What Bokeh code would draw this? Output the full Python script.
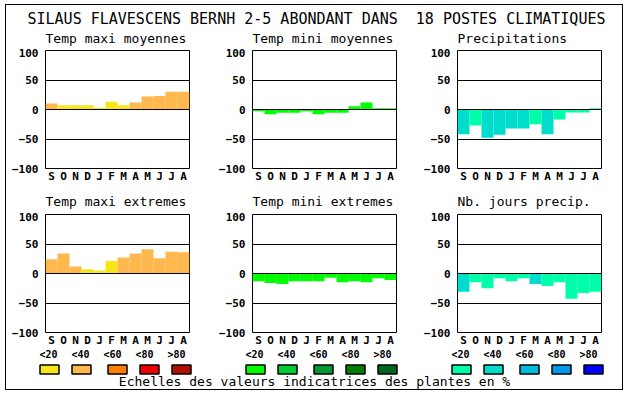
from bokeh.plotting import figure
from bokeh.layouts import column, row
from bokeh.models import Range1d, FixedTicker, ColumnDataSource
from bokeh.embed import file_html
from bokeh.resources import INLINE
from bokeh.core.properties import value

# the original has two spaces between "DANS" and "18" (kept with a no-break space)
TITLE = "SILAUS FLAVESCENS BERNH 2-5 ABONDANT DANS \u00a018 POSTES CLIMATIQUES"
FOOTER = "Echelles des valeurs indicatrices des plantes en %"

months = ["S", "O", "N", "D", "J", "F", "M", "A", "M", "J", "J", "A"]
y_ticks = [-100, -50, 0, 50, 100]
grid_ticks = [-50, 0, 50]
class_labels = ["<20", "<40", "<60", "<80", ">80"]

temp_max_colors = ["#f8e619", "#ffb84d", "#ff8000", "#ee0000", "#b01000"]
temp_min_colors = ["#00ff00", "#00cc33", "#009933", "#008000", "#006622"]
water_colors = ["#00ffaa", "#00ddcc", "#00bbdd", "#0099ee", "#0000ff"]

# values (percent) and class index (0:<20, 1:<40, ...) per month
tmax_moy = [10, 7, 7, 7, 3, 13, 7, 12, 22, 23, 30, 30]
tmax_moy_cls = [1, 0, 0, 0, 0, 0, 0, 1, 1, 1, 1, 1]
tmin_moy = [-3, -8, -5.5, -5.5, -3, -8, -5.5, -5.5, 5.5, 12, 2, 2]
tmin_moy_cls = [0] * 12
precip = [-42, -27, -48, -43, -32, -32, -25, -42, -17, -5, -5, 2]
precip_cls = [1, 0, 1, 1, 1, 1, 0, 1, 0, 0, 0, 0]
tmax_ext = [24, 34, 12, 7, 5, 21, 27, 34, 41, 26, 37, 36]
tmax_ext_cls = [1, 1, 1, 0, 0, 0, 1, 1, 1, 1, 1, 1]
tmin_ext = [-13, -16, -18, -13, -13, -13, -7, -15, -13, -15, -8, -11]
tmin_ext_cls = [0] * 12
nbj = [-31, -15, -25, -8, -13, -8, -18, -21, -15, -43, -33, -31]
nbj_cls = [1, 0, 0, 0, 0, 0, 1, 0, 0, 0, 0, 0]

row1_titles = ["Temp maxi moyennes", "Temp mini moyennes", "Precipitations"]
row2_titles = ["Temp maxi extremes", "Temp mini extremes", "Nb. jours precip."]

MONO = "DejaVu Sans Mono"
FRAME_W = 144
FRAME_H = 120

# horizontal layout of the three columns (inside the border)
col_w = [207, 205, 204]
col_l = [39, 39, 39]
col_r = [w - l - FRAME_W for w, l in zip(col_w, col_l)]
TOTAL_W = sum(col_w)
frame_lefts = [sum(col_w[:i]) + col_l[i] for i in range(3)]


def panel(vals, cls, palette, i):
    top, bottom = 2, 15
    p = figure(width=col_w[i], height=top + FRAME_H + bottom,
               x_range=Range1d(0, 12), y_range=Range1d(-100, 100),
               output_backend="svg", toolbar_location=None, title=None,
               min_border_left=col_l[i], min_border_right=col_r[i],
               min_border_top=top, min_border_bottom=bottom,
               background_fill_color="white", border_fill_color="white")
    xs = [k + 0.5 for k in range(len(months))]
    src = ColumnDataSource(dict(x=xs, top=vals,
                                color=[palette[c] for c in cls]))
    p.vbar(x="x", top="top", bottom=0, width=1, fill_color="color",
           line_color=None, source=src)
    p.outline_line_color = "black"
    p.outline_line_width = 1
    p.outline_line_alpha = 1
    p.xgrid.visible = False
    p.ygrid.ticker = FixedTicker(ticks=grid_ticks)
    p.ygrid.grid_line_color = "black"
    p.ygrid.grid_line_alpha = 1
    p.ygrid.grid_line_width = 1
    p.ygrid.level = "overlay"

    p.xaxis.ticker = FixedTicker(ticks=xs)
    p.xaxis.major_label_overrides = {x: m for x, m in zip(xs, months)}
    p.yaxis.ticker = FixedTicker(ticks=y_ticks)
    for ax in (p.xaxis, p.yaxis):
        ax.axis_line_color = None
        ax.major_tick_line_color = None
        ax.minor_tick_line_color = None
        ax.major_tick_out = 0
        ax.major_tick_in = 0
        ax.major_label_text_font = MONO
        ax.major_label_text_font_style = "bold"
        ax.major_label_text_font_size = "11px"
        ax.major_label_text_color = "black"
    p.xaxis.major_label_standoff = 1
    p.yaxis.major_label_standoff = 7
    return p


def blank(height):
    p = figure(width=TOTAL_W, height=height,
               x_range=Range1d(0, TOTAL_W), y_range=Range1d(height, 0),
               output_backend="svg", toolbar_location=None, title=None,
               min_border=0, x_axis_location=None, y_axis_location=None,
               background_fill_color="white", border_fill_color="white")
    p.outline_line_color = None
    p.grid.visible = False
    return p


def subtitles(p, titles, middle):
    p.text(x=frame_lefts, y=[middle] * 3, text=titles,
           text_font=value(MONO), text_font_size=value("13px"),
           text_baseline="middle", text_align="left", text_color="black")


row1_data = [(tmax_moy, tmax_moy_cls, temp_max_colors),
             (tmin_moy, tmin_moy_cls, temp_min_colors),
             (precip, precip_cls, water_colors)]
row2_data = [(tmax_ext, tmax_ext_cls, temp_max_colors),
             (tmin_ext, tmin_ext_cls, temp_min_colors),
             (nbj, nbj_cls, water_colors)]

row1 = [panel(v, c, pal, i) for i, (v, c, pal) in enumerate(row1_data)]
row2 = [panel(v, c, pal, i) for i, (v, c, pal) in enumerate(row2_data)]

# title band with the first row's panel titles
T = blank(43)
T.text(x=[21], y=[13], text=[TITLE], text_font=value(MONO),
       text_font_size=value("15px"), text_baseline="middle",
       text_align="left", text_color="black")
subtitles(T, row1_titles, 32.5)

# band with the second row's panel titles
S2 = blank(27)
subtitles(S2, row2_titles, 16)

# legend band
L = blank(40)
group_starts = [33, 239, 445]
label_off = [0, 32, 64, 96, 128]
box_off = [0, 32, 68, 100, 132]
palettes = [temp_max_colors, temp_min_colors, water_colors]
lx, lt, bl, br, bc = [], [], [], [], []
for g, pal in zip(group_starts, palettes):
    for k, lab in enumerate(class_labels):
        lx.append(g + label_off[k])
        lt.append(lab)
        bl.append(g + box_off[k] + 0.5)
        br.append(g + box_off[k] + 19.5)
        bc.append(pal[k])
L.text(x=lx, y=[5] * len(lx), text=lt, text_font=value(MONO),
       text_font_size=value("10px"), text_font_style="bold",
       text_baseline="middle", text_align="left", text_color="black")
L.quad(left=bl, right=br, top=[15.5] * len(bl), bottom=[24.5] * len(bl),
       fill_color=bc, line_color="black", line_width=1.5)
L.text(x=[308], y=[32], text=[FOOTER], text_font=value(MONO),
       text_font_size=value("13px"), text_baseline="middle",
       text_align="center", text_color="black")

layout = column(T, row(*row1, spacing=0), S2, row(*row2, spacing=0), L,
                spacing=0,
                styles={"border": "1px solid black",
                        "margin-left": "5px", "margin-top": "4px"})

open("out.html", "w").write(file_html(layout, INLINE))
